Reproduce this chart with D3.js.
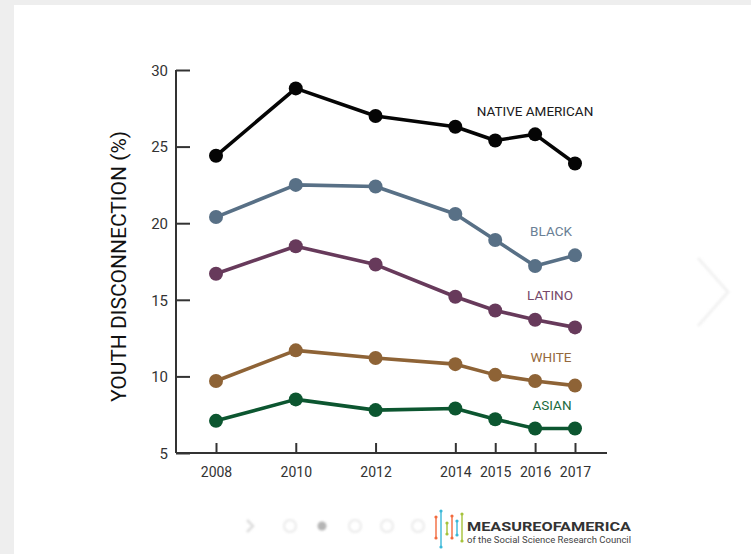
<!DOCTYPE html>
<html>
<head>
<meta charset="utf-8">
<script src="https://cdn.jsdelivr.net/npm/d3@7"></script>
<style>
  html, body { margin: 0; padding: 0; background: #eeeeee; }
  svg { display: block; }
</style>
</head>
<body>
<svg id="chart" width="751" height="554"></svg>
<script>
// Youth disconnection rate by race and ethnicity, 2008–2017
const years = [2008, 2010, 2012, 2014, 2015, 2016, 2017];
const nativeAmerican = [24.4, 28.8, 27.0, 26.3, 25.4, 25.8, 23.9];
const black = [20.4, 22.5, 22.4, 20.6, 18.9, 17.2, 17.9];
const latino = [16.7, 18.5, 17.3, 15.2, 14.3, 13.7, 13.2];
const white = [9.7, 11.7, 11.2, 10.8, 10.1, 9.7, 9.4];
const asian = [7.1, 8.5, 7.8, 7.9, 7.2, 6.6, 6.6];
const seriesNames = ["NATIVE AMERICAN", "BLACK", "LATINO", "WHITE", "ASIAN"];
const yTicks = [5, 10, 15, 20, 25, 30];

const series = [
  { name: seriesNames[0], values: nativeAmerican, color: "#050505", label: "#1a1a1a", lx: 535, ly: 111 },
  { name: seriesNames[1], values: black, color: "#587086", label: "#6a8096", lx: 551, ly: 231 },
  { name: seriesNames[2], values: latino, color: "#673a5b", label: "#76496a", lx: 550, ly: 295 },
  { name: seriesNames[3], values: white, color: "#8e6336", label: "#94693c", lx: 551, ly: 357 },
  { name: seriesNames[4], values: asian, color: "#0c5630", label: "#1a6b3e", lx: 552, ly: 405 }
];

const svg = d3.select("#chart");

// white card on the textured grey page
svg.append("rect").attr("x", 14).attr("y", 5).attr("width", 751 - 14).attr("height", 554 - 5).attr("fill", "#ffffff");

const x = d3.scaleLinear().domain([2008, 2017]).range([216, 575]);
const y = d3.scaleLinear().domain([5, 30]).range([453, 70]);

const axisColor = "#333333";
const tickFont = "Roboto, 'DejaVu Sans', sans-serif";

// y axis
const yAxis = svg.append("g").attr("transform", "translate(176,0)")
  .call(d3.axisRight(y).tickValues(yTicks).tickSize(14).tickFormat(d3.format("d")));
yAxis.select(".domain").remove();
yAxis.selectAll(".tick line").attr("stroke", axisColor).attr("stroke-width", 2);
yAxis.selectAll(".tick text").attr("x", -8).attr("text-anchor", "end").attr("dy", "0.35em")
  .attr("fill", "#333").style("font-family", tickFont).style("font-size", "15px");
svg.append("line").attr("x1", 176).attr("x2", 176).attr("y1", y(30)).attr("y2", y(5))
  .attr("stroke", axisColor).attr("stroke-width", 2);

// x axis
const xAxis = svg.append("g").attr("transform", `translate(0,${y(5)})`)
  .call(d3.axisTop(x).tickValues(years).tickSize(10).tickFormat(d3.format("d")));
xAxis.select(".domain").remove();
xAxis.selectAll(".tick line").attr("stroke", axisColor).attr("stroke-width", 2);
xAxis.selectAll(".tick text").attr("y", 14).attr("dy", "0.71em")
  .attr("fill", "#333").style("font-family", tickFont).style("font-size", "14px");
svg.append("line").attr("x1", 176).attr("x2", 607).attr("y1", y(5)).attr("y2", y(5))
  .attr("stroke", axisColor).attr("stroke-width", 2);

// y axis title
svg.append("text")
  .attr("transform", `translate(126,${(y(30) + y(5)) / 2 + 5}) rotate(-90)`)
  .attr("text-anchor", "middle")
  .attr("fill", "#111")
  .style("font-family", "'Liberation Sans Narrow', Roboto, sans-serif")
  .style("font-size", "21px")
  .text("YOUTH DISCONNECTION (%)");

// lines and markers
const line = d3.line().x((d, i) => x(years[i])).y(d => y(d));

series.forEach(s => {
  const g = svg.append("g");
  g.append("path").datum(s.values).attr("d", line)
    .attr("fill", "none").attr("stroke", s.color).attr("stroke-width", 3.6).attr("stroke-linejoin", "round");
  g.selectAll("circle").data(s.values).join("circle")
    .attr("cx", (d, i) => x(years[i])).attr("cy", d => y(d)).attr("r", 7)
    .attr("fill", s.color);
  g.append("text").attr("x", s.lx).attr("y", s.ly).attr("dy", "0.35em")
    .attr("text-anchor", "middle").attr("fill", s.label)
    .style("font-family", tickFont).style("font-size", "13.5px").style("font-weight", 400)
    .text(s.name);
});

// carousel controls (faint)
const nav = svg.append("g").style("filter", "blur(1.2px)");
nav.append("path").attr("d", "M247,520 L253,526 L247,532").attr("fill", "none")
  .attr("stroke", "#dddddd").attr("stroke-width", 2.5);
[290, 355, 387, 418].forEach(cx => {
  nav.append("circle").attr("cx", cx).attr("cy", 526).attr("r", 6).attr("fill", "none")
    .attr("stroke", "#eeeeee").attr("stroke-width", 2.5);
});
nav.append("circle").attr("cx", 322).attr("cy", 526).attr("r", 4.5).attr("fill", "#b5b5b5");

svg.append("path").attr("d", "M698,258 L728,292 L698,326").attr("fill", "none")
  .attr("stroke", "#f2f2f2").attr("stroke-width", 3).style("filter", "blur(1px)");

// Measure of America logo
const logo = svg.append("g");
const bars = [
  { x: 436, y1: 517, y2: 538, c: "#f26a3d" },
  { x: 441, y1: 511, y2: 547, c: "#3ab8d8" },
  { x: 447, y1: 523, y2: 534, c: "#a5c23a" },
  { x: 452, y1: 516, y2: 538, c: "#f26a3d" },
  { x: 457, y1: 521, y2: 535, c: "#3ab8d8" },
  { x: 462, y1: 514, y2: 541, c: "#a5c23a" }
];
bars.forEach(b => {
  logo.append("line").attr("x1", b.x).attr("x2", b.x).attr("y1", b.y1).attr("y2", b.y2)
    .attr("stroke", b.c).attr("stroke-width", 1.4);
  logo.append("circle").attr("cx", b.x).attr("cy", b.y1).attr("r", 1.6).attr("fill", b.c);
  logo.append("circle").attr("cx", b.x).attr("cy", b.y2).attr("r", 1.6).attr("fill", b.c);
});
logo.append("text").attr("x", 467).attr("y", 531)
  .attr("fill", "#333").style("font-family", tickFont).style("font-size", "13.5px")
  .style("font-weight", 700).attr("textLength", 164).attr("lengthAdjust", "spacingAndGlyphs")
  .text("MEASUREOFAMERICA");
logo.append("text").attr("x", 467).attr("y", 543)
  .attr("fill", "#444").style("font-family", tickFont).style("font-size", "9.5px")
  .attr("textLength", 164).attr("lengthAdjust", "spacingAndGlyphs")
  .text("of the Social Science Research Council");
</script>
</body>
</html>
